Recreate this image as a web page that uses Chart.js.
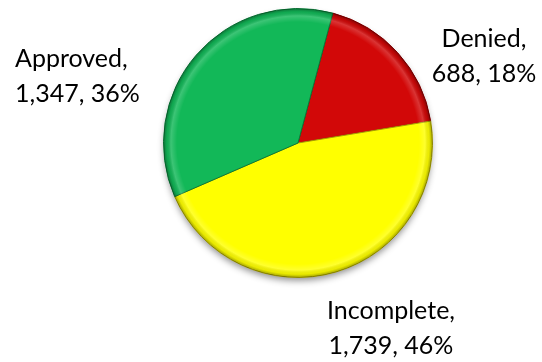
<!DOCTYPE html>
<html>
<head>
<meta charset="utf-8">
<script src="https://cdn.jsdelivr.net/npm/chart.js@4.4.1/dist/chart.umd.min.js"></script>
<style>
  html, body { margin: 0; padding: 0; background: #fff; }
  #wrap { width: 542px; height: 362px; position: relative; }
</style>
</head>
<body>
<div id="wrap"><canvas id="pie" width="542" height="362"></canvas></div>
<script>
// --- Data ---
const categories = ['Denied', 'Incomplete', 'Approved'];
const counts = [688, 1739, 1347];
const percents = ['18%', '46%', '36%'];
const sliceColors = ['#d20808', '#ffff00', '#12b858'];
const edgeColors = ['#8a0000', '#a8a000', '#0a7a38'];

// label anchors (center of text block), relative to canvas
const labelSpots = [
    { x: 484, y: 30, align: 'center' },
    { x: 391, y: 302, align: 'center' },
    { x: 15, y: 50, align: 'left' }
];

// --- Shadow + bevel look ---
const bevelPlugin = {
    id: 'bevel',
    beforeDatasetsDraw(chart) {
        const arc = chart.getDatasetMeta(0).data[0];
        if (!arc) return;
        const { x, y, outerRadius } = arc.getProps(['x', 'y', 'outerRadius'], true);
        const ctx = chart.ctx;
        ctx.save();
        ctx.shadowColor = 'rgba(0,0,0,0.45)';
        ctx.shadowBlur = 7;
        ctx.shadowOffsetY = 4;
        ctx.beginPath();
        ctx.arc(x, y, outerRadius - 1, 0, Math.PI * 2);
        ctx.fillStyle = '#fff';
        ctx.fill();
        ctx.restore();
    },
    afterDatasetsDraw(chart) {
        const arc = chart.getDatasetMeta(0).data[0];
        if (!arc) return;
        const { x, y, outerRadius } = arc.getProps(['x', 'y', 'outerRadius'], true);
        const ctx = chart.ctx;
        ctx.save();
        const g = ctx.createRadialGradient(x, y, 0, x, y, outerRadius);
        g.addColorStop(0, 'rgba(255,255,255,0)');
        g.addColorStop(0.9, 'rgba(255,255,255,0)');
        g.addColorStop(0.945, 'rgba(255,255,255,0.18)');
        g.addColorStop(0.975, 'rgba(0,0,0,0.08)');
        g.addColorStop(1, 'rgba(0,0,0,0.35)');
        ctx.beginPath();
        ctx.arc(x, y, outerRadius, 0, Math.PI * 2);
        ctx.fillStyle = g;
        ctx.fill();
        ctx.restore();
    }
};

// --- Data labels ---
const labelPlugin = {
    id: 'pieLabels',
    afterDraw(chart) {
        const ctx = chart.ctx;
        const ds = chart.data.datasets[0];
        ctx.save();
        ctx.font = '25px Lato, "Open Sans", sans-serif';
        ctx.fillStyle = '#000';
        ctx.textBaseline = 'alphabetic';
        chart.data.labels.forEach((lab, i) => {
            const spot = labelSpots[i];
            ctx.textAlign = spot.align;
            const line1 = lab + ',';
            const line2 = ds.data[i].toLocaleString('en-US') + ', ' + percents[i];
            ctx.fillText(line1, spot.x, spot.y + 17);
            ctx.fillText(line2, spot.x, spot.y + 52);
        });
        ctx.restore();
    }
};

new Chart(document.getElementById('pie'), {
    type: 'pie',
    data: {
        labels: categories,
        datasets: [{
            data: counts,
            backgroundColor: sliceColors,
            borderColor: edgeColors,
            borderWidth: 1
        }]
    },
    options: {
        responsive: false,
        animation: false,
        rotation: 15,
        layout: { padding: { left: 163, right: 109, top: 8, bottom: 84 } },
        plugins: {
            legend: { display: false },
            tooltip: { enabled: false }
        }
    },
    plugins: [bevelPlugin, labelPlugin]
});
</script>
</body>
</html>
